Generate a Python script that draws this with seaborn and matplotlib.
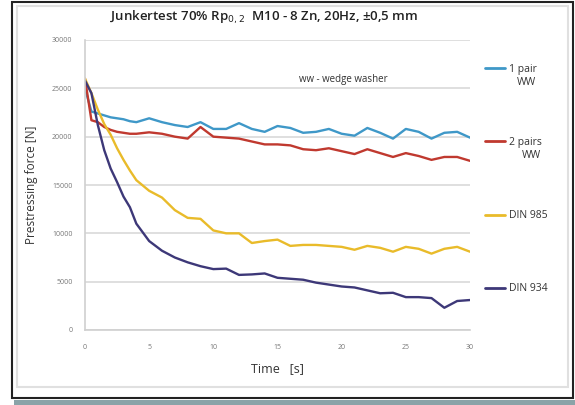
import numpy as np
import pandas as pd
import matplotlib
matplotlib.use("Agg")
import matplotlib.pyplot as plt
from matplotlib.patches import Rectangle
import seaborn as sns

# ---- data ----
time_s = [0, 0.5, 1, 1.5, 2, 2.5, 3, 3.5, 4, 5, 6, 7, 8, 9, 10, 11, 12, 13, 14, 15,
          16, 17, 18, 19, 20, 21, 22, 23, 24, 25, 26, 27, 28, 29, 30]

one_pair_ww = [25000, 22600, 22400, 22200, 22000, 21900, 21800, 21600, 21500, 21900,
               21500, 21200, 21000, 21500, 20800, 20800, 21400, 20800, 20500, 21100,
               20900, 20400, 20500, 20800, 20300, 20100, 20900, 20400, 19800, 20800,
               20500, 19800, 20400, 20500, 19900]

two_pairs_ww = [26000, 21700, 21500, 21000, 20700, 20500, 20400, 20300, 20300, 20450,
                20300, 20000, 19800, 21000, 20000, 19900, 19800, 19500, 19200, 19200,
                19100, 18700, 18600, 18800, 18500, 18200, 18700, 18300, 17900, 18300,
                18000, 17600, 17900, 17900, 17500]

din_985 = [26000, 24500, 22800, 21300, 20200, 18800, 17600, 16500, 15500, 14400,
           13700, 12400, 11600, 11500, 10300, 10000, 10000, 9000, 9200, 9350,
           8700, 8800, 8800, 8700, 8600, 8300, 8700, 8500, 8100, 8600,
           8400, 7900, 8400, 8600, 8100]

din_934 = [25800, 24500, 21200, 18600, 16700, 15300, 13800, 12700, 11000, 9200,
           8200, 7500, 7000, 6600, 6300, 6350, 5700, 5750, 5850, 5400,
           5300, 5200, 4900, 4700, 4500, 4400, 4100, 3800, 3850, 3400,
           3400, 3300, 2300, 3000, 3100]

series_labels = ["1 pair", "2 pairs", "DIN 985", "DIN 934"]
label_second_lines = ["WW", "WW", "", ""]
series_values = [one_pair_ww, two_pairs_ww, din_985, din_934]
x_ticks = [0, 5, 10, 15, 20, 25, 30]
y_ticks = [0, 5000, 10000, 15000, 20000, 25000, 30000]

palette = ["#3f98c8", "#c0392f", "#e9bb2a", "#3d3878"]

df = pd.concat([
    pd.DataFrame({"Time": time_s, "Force": vals, "Series": lab})
    for lab, vals in zip(series_labels, series_values)
], ignore_index=True)

# ---- figure ----
sns.set_theme(style="white")
plt.rcParams["font.family"] = ["Open Sans", "DejaVu Sans"]

fig = plt.figure(figsize=(5.75, 4.05), dpi=100)
ax = fig.add_axes([85 / 575, 1 - 330 / 405, (470 - 85) / 575, (330 - 40) / 405])

sns.lineplot(data=df, x="Time", y="Force", hue="Series", palette=palette,
             hue_order=series_labels, linewidth=1.7, ax=ax, legend=True)

ax.set_xlim(0, 30)
ax.set_ylim(0, 30000)
ax.set_xticks(x_ticks)
ax.set_yticks(y_ticks)
ax.set_xticklabels([str(t) for t in x_ticks], fontsize=5, color="#777777")
ax.set_yticklabels([str(t) for t in y_ticks], fontsize=5, color="#777777")
ax.tick_params(axis="x", length=0, pad=10)
ax.tick_params(axis="y", length=0, pad=9)
ax.yaxis.grid(True, color="#d9d9d9", linewidth=1.2)
ax.set_axisbelow(True)
for s in ["top", "right"]:
    ax.spines[s].set_visible(False)
ax.spines["left"].set_color("#d0d0d0")
ax.spines["bottom"].set_color("#d0d0d0")
ax.spines["left"].set_linewidth(1.2)
ax.spines["bottom"].set_linewidth(1.2)

ax.set_xlabel("Time   [s]", fontsize=9, color="#333333", labelpad=8)
ax.set_ylabel("Prestressing force [N]", fontsize=8.5, color="#333333", labelpad=10)

ax.text(0.67, 0.865, "ww - wedge washer", transform=ax.transAxes, fontsize=7,
        color="#333333", ha="center", va="center")

fig.text(0.46, 0.957, r"Junkertest 70% Rp$_{0,2}$  M10 - 8 Zn, 20Hz, ±0,5 mm",
         fontsize=9.5, fontweight="semibold", color="#222222", ha="center", va="center")

leg = ax.legend(loc="upper left", bbox_to_anchor=(1.038, 0.918), frameon=False,
                fontsize=7.5, handlelength=2.0, handletextpad=0.3,
                labelspacing=5.97, borderaxespad=0, borderpad=0)
for t in leg.get_texts():
    t.set_color("#333333")
for h in leg.get_lines():
    h.set_linewidth(2.0)

# second lines of the two-line legend labels ("WW"), right aligned under the first line
fig.canvas.draw()
rend = fig.canvas.get_renderer()
for t, extra in zip(leg.get_texts(), label_second_lines):
    if extra:
        bb = t.get_window_extent(rend)
        fig.text(bb.x1 / fig.bbox.width, (bb.y0 - 8) / fig.bbox.height, extra,
                 fontsize=7.5, color="#333333", ha="right", va="center")

# figure frame
fig.patches.append(Rectangle((12 / 575, 1 - 398 / 405), (573 - 12) / 575, (398 - 2) / 405,
                             transform=fig.transFigure, fill=False,
                             edgecolor="#222222", linewidth=1.5))
fig.patches.append(Rectangle((17 / 575, 1 - 387 / 405), (568 - 17) / 575, (387 - 6) / 405,
                             transform=fig.transFigure, fill=False,
                             edgecolor="#e0e0e0", linewidth=1.5))
fig.patches.append(Rectangle((14 / 575, 0), (575 - 14) / 575, 5 / 405,
                             transform=fig.transFigure, fill=True,
                             facecolor="#8aa3a8", edgecolor="none"))

fig.savefig("out.png", dpi=100)
